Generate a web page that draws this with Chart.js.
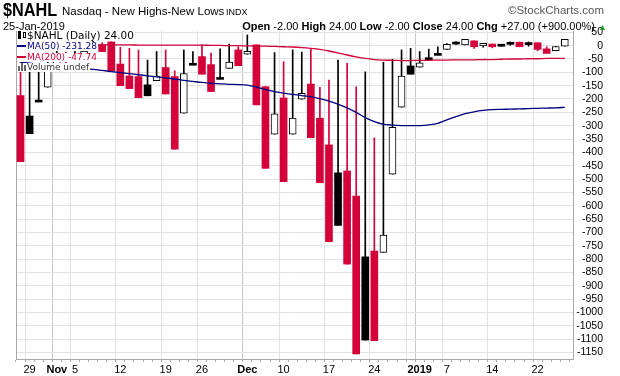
<!DOCTYPE html>
<html><head><meta charset="utf-8">
<script src="https://cdn.jsdelivr.net/npm/chart.js@4/dist/chart.umd.min.js"></script>
<style>
html,body{margin:0;padding:0;background:#fff;}
#wrap{position:relative;width:620px;height:376px;overflow:hidden;font-family:"Liberation Sans",Arial,sans-serif;}
#c{position:absolute;left:0;top:0;}
.t{position:absolute;white-space:nowrap;color:#000;line-height:1;}
.lg{position:absolute;left:17px;white-space:nowrap;background:#fff;font-family:"DejaVu Sans",Verdana,sans-serif;line-height:1;padding-right:1px;}
.b{font-weight:bold;}
</style></head>
<body><div id="wrap">
<canvas id="c" width="620" height="376"></canvas>
<div class="t" style="left:3px;top:1px;font-weight:bold;font-size:18.5px;transform:scaleX(0.88);transform-origin:0 0;">$NAHL</div>
<div class="t" style="left:62px;top:6px;font-size:11.5px;">Nasdaq - New Highs-New Lows</div>
<div class="t" style="left:226px;top:8px;font-size:9px;">INDX</div>
<div class="t" style="right:16px;top:5px;font-size:11.5px;color:#555;">©StockCharts.com</div>
<div class="t" style="left:3px;top:21px;font-size:11px;">25-Jan-2019</div>
<div class="t" style="right:13px;top:21px;font-size:11px;"><span class="b">Open</span> -2.00 <span class="b">High</span> 24.00 <span class="b">Low</span> -2.00 <span class="b">Close</span> 24.00 <span class="b">Chg</span> +27.00 (+900.00%) <span style="color:#2a9a2a;font-size:9px;">▲</span></div>
<div class="lg" style="top:30px;font-size:10.5px;"><span style="display:inline-block;width:10px;height:8px;position:relative;"><span style="position:absolute;left:1px;top:0;width:3px;height:8px;background:#000;"></span><span style="position:absolute;left:6px;top:1px;width:3px;height:6px;border:1px solid #000;box-sizing:border-box;"></span></span><span id="lg1"></span></div>
<div class="lg" style="top:41.5px;font-size:9px;color:#000080;"><span style="display:inline-block;width:9px;height:2px;background:#000080;vertical-align:middle;margin-right:1px;"></span><span id="lg2"></span></div>
<div class="lg" style="top:52.5px;font-size:9px;color:#d0003a;"><span style="display:inline-block;width:9px;height:2px;background:#d0003a;vertical-align:middle;margin-right:1px;"></span><span id="lg3"></span></div>
<div class="lg" style="top:62.5px;font-size:9px;color:#333;"><span style="display:inline-block;width:9px;height:8px;position:relative;vertical-align:-1px;margin-right:1px;"><span style="position:absolute;left:1px;bottom:0;width:2px;height:5px;background:#666;"></span><span style="position:absolute;left:4px;bottom:0;width:2px;height:8px;background:#666;"></span><span style="position:absolute;left:7px;bottom:0;width:2px;height:6px;background:#666;"></span></span><span id="lg4"></span></div>
</div>
<script>
// ---- data (trading days 26-Oct-2018 .. 25-Jan-2019) ----
const dates = ['2018-10-26','2018-10-29','2018-10-30','2018-10-31','2018-11-01','2018-11-02','2018-11-05','2018-11-06','2018-11-07','2018-11-08','2018-11-09','2018-11-12','2018-11-13','2018-11-14','2018-11-15','2018-11-16','2018-11-19','2018-11-20','2018-11-21','2018-11-23','2018-11-26','2018-11-27','2018-11-28','2018-11-29','2018-11-30','2018-12-03','2018-12-04','2018-12-06','2018-12-07','2018-12-10','2018-12-11','2018-12-12','2018-12-13','2018-12-14','2018-12-17','2018-12-18','2018-12-19','2018-12-20','2018-12-21','2018-12-24','2018-12-26','2018-12-27','2018-12-28','2018-12-31','2019-01-02','2019-01-03','2019-01-04','2019-01-07','2019-01-08','2019-01-09','2019-01-10','2019-01-11','2019-01-14','2019-01-15','2019-01-16','2019-01-17','2019-01-18','2019-01-22','2019-01-23','2019-01-24','2019-01-25'];
const opens  = [-187,-264,-204,-156,-70,-45,-55,-40,-15,3,14,-69,-114,-116,-147,-131,-82,-116,-253,-66,-41,-71,-119,-85,-16,-32,3,-154,-332,-196,-332,-201,-144,-272,-372,-477,-470,-564,-792,-770,-775,-482,-231,-76,-81,-45,-29,-14,7,3,18,-1,6,3,8,13,7,11,-12,-19,-2];
const highs  = [-30,-70,-80,-60,-20,-25,-20,-5,20,11,14,-6,-10,-16,-54,-22,-16,-94,-16,-22,3,-28,-12,6,-4,40,3,-154,-26,-60,-16,-24,-10,-156,-129,-54,-66,-154,-98,-346,-62,-51,-16,-10,-22,-13,-4,8,15,24,18,9,6,5,14,13,14,11,-4,-3,24];
const lows   = [-435,-330,-207,-156,-70,-65,-55,-45,-15,-22,-95,-150,-161,-195,-188,-131,-181,-388,-253,-69,-107,-172,-121,-85,-75,-32,-222,-460,-332,-510,-332,-201,-345,-514,-735,-674,-819,-1156,-1104,-1106,-775,-482,-231,-107,-81,-48,-34,-14,5,3,-10,-6,-8,-3,0,-4,-2,-19,-29,-19,-2];
const closes = [-435,-330,-207,-80,-40,-60,-35,-20,10,-22,-95,-150,-161,-195,-188,-114,-181,-388,-105,-68,-107,-172,-121,-62,-75,-21,-222,-460,-256,-510,-272,-179,-345,-514,-735,-674,-819,-1156,-1104,-1106,-710,-306,-114,-107,-64,-47,-34,5,6,24,-4,9,-4,-2,5,-4,4,-14,-29,-3,24];
const ma50   = [-62,-66,-70,-74,-77,-80,-83,-86,-89,-93,-97,-101,-105,-109,-113,-117,-121,-125,-130,-134,-138,-141,-143,-145,-146,-148,-155,-165,-172,-178,-183,-187,-191,-199,-208,-220,-233,-250,-270,-285,-295,-298,-300,-300,-300,-297,-291,-278,-266,-255,-248,-243,-240,-239,-238,-237,-236,-235,-234,-233,-231.28];
const ma200  = [5,5,5,4,4,4,4,3,3,3,3,3,3,2,2,2,2,2,2,2,2,1,1,0,0,-1,-1,-2,-3,-4,-5,-7,-10,-14,-20,-27,-35,-42,-48,-52,-54,-55,-56,-56,-55,-55,-54,-54,-53,-53,-53,-52,-52,-51,-50,-50,-49,-49,-48,-48,-47.74];
const xTickIdx  = [1,4,6,11,16,20,25,29,34,39,43,44,47,52,57];
const xTickText = ['29','Nov','5','12','19','26','Dec','10','17','24','','2019','7','14','22'];
const boldTicks = ['Nov','Dec','2019'];
const yTickLabels = ['50','0','-50','-100','-150','-200','-250','-300','-350','-400','-450','-500','-550','-600','-650','-700','-750','-800','-850','-900','-950','-1000','-1050','-1100','-1150'];

document.getElementById('lg1').textContent = '$NAHL (Daily) ' + closes[closes.length-1].toFixed(2);
document.getElementById('lg2').textContent = 'MA(50) ' + ma50[ma50.length-1].toFixed(2);
document.getElementById('lg3').textContent = 'MA(200) ' + ma200[ma200.length-1].toFixed(2);
document.getElementById('lg4').textContent = 'Volume undef';

const RED = '#d4003a', BLK = '#000000';
const col = closes.map((c,i) => (i === 0 || c < closes[i-1]) ? RED : BLK);
const hollow = closes.map((c,i) => c > opens[i]);
const tickMap = {}; xTickIdx.forEach((v,k) => tickMap[v] = xTickText[k]);
const monthIdx = xTickIdx.filter((v,k) => boldTicks.includes(xTickText[k]));

new Chart(document.getElementById('c'), {
  data: {
    datasets: [
      { type:'line', label:'MA(50)', data: ma50.map((v,i)=>({x:i,y:v})), borderColor:'#000080', borderWidth:1.3, pointRadius:0, tension:0.3, order:0 },
      { type:'line', label:'MA(200)', data: ma200.map((v,i)=>({x:i,y:v})), borderColor:'#d0003a', borderWidth:1.3, pointRadius:0, tension:0.3, order:0 },
      { type:'bar', label:'body', data: opens.map((o,i)=>({x:i,y:[o,closes[i]]})),
        backgroundColor: col.map((c,i)=> hollow[i] ? '#ffffff' : c),
        borderColor: col, borderWidth: hollow.map(h => h ? 1 : 0), borderSkipped:false,
        barThickness:7, grouped:false, minBarLength:2, order:1 },
      { type:'bar', label:'range', data: lows.map((l,i)=>({x:i,y:[l,highs[i]]})),
        backgroundColor: col, borderWidth:0, barThickness:1, grouped:false, order:2 }
    ]
  },
  options: {
    responsive:false, animation:false, devicePixelRatio:1,
    layout:{ padding:{ left:16, right:17, top:31, bottom:0 } },
    plugins:{ legend:{display:false}, tooltip:{enabled:false} },
    scales:{
      x:{ type:'linear', min:-0.5, max:60.9, offset:false,
        afterBuildTicks: sc => { sc.ticks = dates.map((d,i)=>({value:i})); },
        afterFit: sc => { sc.height = 17; },
        ticks:{ autoSkip:false, maxRotation:0, padding:1, color:'#000',
          callback: v => tickMap[v] !== undefined ? tickMap[v] : '',
          font: ctx => ({ family:'"Liberation Sans", Arial, sans-serif', size:11, weight: (ctx.tick && monthIdx.includes(ctx.tick.value)) ? 'bold' : 'normal' }) },
        grid:{ drawOnChartArea:true, drawTicks:true, tickLength:3,
          color: ctx => { const v = ctx.tick ? ctx.tick.value : -1; if (monthIdx.includes(v)) return '#c8c8c8'; return tickMap[v] !== undefined ? '#e2e2e2' : 'rgba(0,0,0,0)'; },
          tickColor: '#aaaaaa' },
        border:{ color:'#a8a8a8', width:1 } },
      y:{ type:'linear', position:'right', min:-1175, max:55,
        afterBuildTicks: sc => { sc.ticks = yTickLabels.map(s=>({value:Number(s)})); },
        afterFit: sc => { sc.width = 30; },
        ticks:{ autoSkip:false, crossAlign:'far', padding:0, color:'#000', font:{ family:'"Liberation Sans", Arial, sans-serif', size:10.5 }, callback: v => String(v) },
        grid:{ color:'#e2e2e2', drawTicks:false },
        border:{ color:'#a8a8a8', width:1 } },
      yl:{ type:'linear', position:'left', min:-1175, max:55,
        afterFit: sc => { sc.width = 0; },
        ticks:{ display:false }, grid:{ drawOnChartArea:false, drawTicks:false },
        border:{ color:'#a8a8a8', width:1 } }
    }
  }
});
</script>
</body></html>
